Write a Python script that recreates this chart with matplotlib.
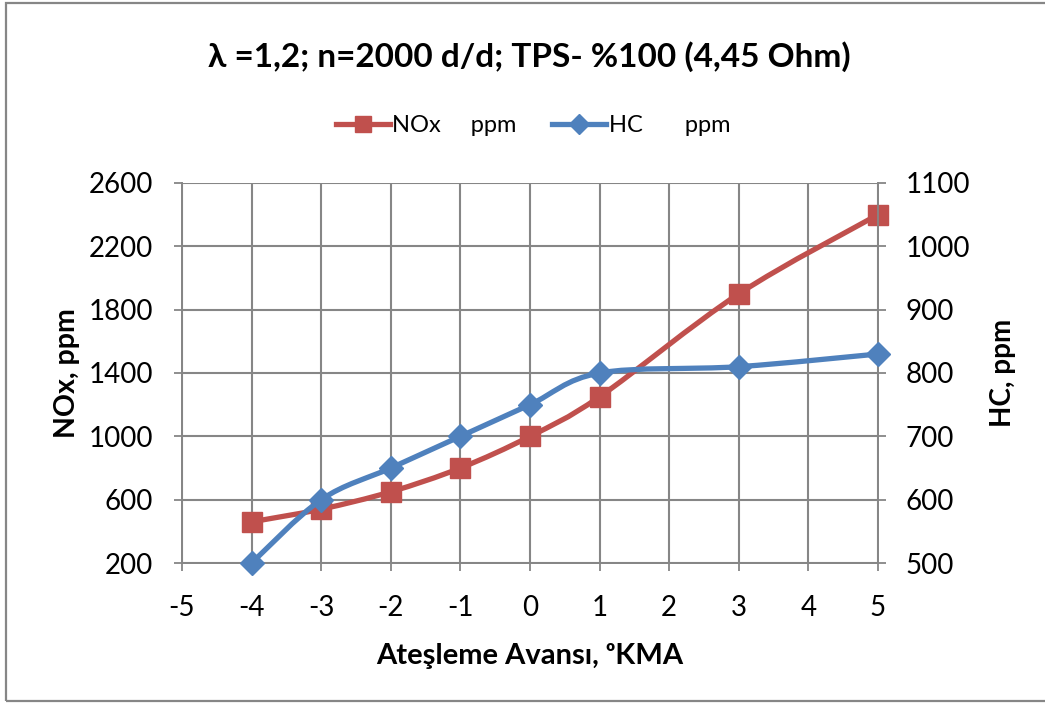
import matplotlib
matplotlib.use("Agg")
import matplotlib.pyplot as plt
from matplotlib.path import Path
from matplotlib.patches import PathPatch, Rectangle
from matplotlib.lines import Line2D
import numpy as np

plt.rcParams["font.family"] = ["Lato", "DejaVu Sans"]
plt.rcParams["axes.unicode_minus"] = False

# ignition advance (deg crank angle) and measured emissions
avans = [-4, -3, -2, -1, 0, 1, 3, 5]
nox = [460, 540, 650, 800, 1000, 1250, 1900, 2400]
hc = [500, 600, 650, 700, 750, 800, 810, 830]

nox_ticks = [200, 600, 1000, 1400, 1800, 2200, 2600]
hc_ticks = [500, 600, 700, 800, 900, 1000, 1100]
x_ticks = [-5, -4, -3, -2, -1, 0, 1, 2, 3, 4, 5]

RED = "#C0504D"
BLUE = "#4F81BD"
GRID = "#868686"


def smooth_path(x, y):
    # excel style smoothed line: cubic bezier segments through every point
    p = np.column_stack([x, y]).astype(float)
    ext = np.vstack([p[0], p, p[-1]])
    verts = [p[0]]
    codes = [Path.MOVETO]
    for i in range(len(p) - 1):
        c1 = ext[i + 1] + (ext[i + 2] - ext[i]) / 6.0
        c2 = ext[i + 2] - (ext[i + 3] - ext[i + 1]) / 6.0
        verts += [c1, c2, p[i + 1]]
        codes += [Path.CURVE4] * 3
    return Path(verts, codes)


fig = plt.figure(figsize=(10.45, 7.04), dpi=100)
fig.patches.append(Rectangle((6 / 1045, 1 - 701 / 704), 1.1, 698 / 704,
                             transform=fig.transFigure, fill=False,
                             edgecolor=GRID, linewidth=1.6))

ax = fig.add_axes([182 / 1045, 1 - 563 / 704, 696 / 1045, 380 / 704])
ax2 = ax.twinx()

ax.add_patch(PathPatch(smooth_path(avans, nox), fill=False, edgecolor=RED,
                       linewidth=3.8, capstyle="round", zorder=3))
ax.plot(avans, nox, linestyle="none", marker="s", markersize=14,
        color=RED, zorder=4, clip_on=False)

ax2.add_patch(PathPatch(smooth_path(avans, hc), fill=False, edgecolor=BLUE,
                        linewidth=3.8, capstyle="round", zorder=3))
ax2.plot(avans, hc, linestyle="none", marker="D", markersize=12,
         color=BLUE, zorder=4, clip_on=False)

ax.set_xlim(-5, 5)
ax.set_ylim(200, 2600)
ax2.set_ylim(500, 1100)
ax.set_xticks(x_ticks)
ax.set_yticks(nox_ticks)
ax2.set_yticks(hc_ticks)
ax.grid(True, color=GRID, linewidth=1.5)
ax.set_axisbelow(True)

for a in (ax, ax2):
    for s in a.spines.values():
        s.set_color(GRID)
        s.set_linewidth(1.3)
    a.spines["top"].set_visible(False)
    a.tick_params(colors=GRID, labelcolor="black", labelsize=20,
                  length=6, width=1.3, direction="out")
ax.tick_params(axis="x", pad=17)
ax.tick_params(axis="y", pad=15)
ax2.tick_params(axis="y", pad=14)

ax.set_ylabel("NOx, ppm", fontsize=20.5, fontweight="bold", labelpad=6)
ax2.set_ylabel("HC, ppm", fontsize=20, fontweight="bold", labelpad=14)
ax.set_xlabel("Ateşleme Avansı, ᵒKMA", fontsize=21, fontweight="bold",
              labelpad=16)

fig.text(529 / 1045, 1 - 67 / 704, "λ =1,2; n=2000 d/d; TPS- %100 (4,45 Ohm)",
         ha="center", va="baseline", fontsize=24, fontweight="bold")

handles = [
    Line2D([], [], color=RED, linewidth=3.8, marker="s", markersize=12),
    Line2D([], [], color=BLUE, linewidth=3.8, marker="D", markersize=10),
]
fig.legend(handles, ["NOx     ppm", "HC       ppm"], loc="center",
           bbox_to_anchor=(533 / 1045, 1 - 126 / 704), ncol=2, frameon=False,
           fontsize=17, handlelength=2.3, handletextpad=0.1, columnspacing=1.5)

fig.savefig("out.png", dpi=100)
